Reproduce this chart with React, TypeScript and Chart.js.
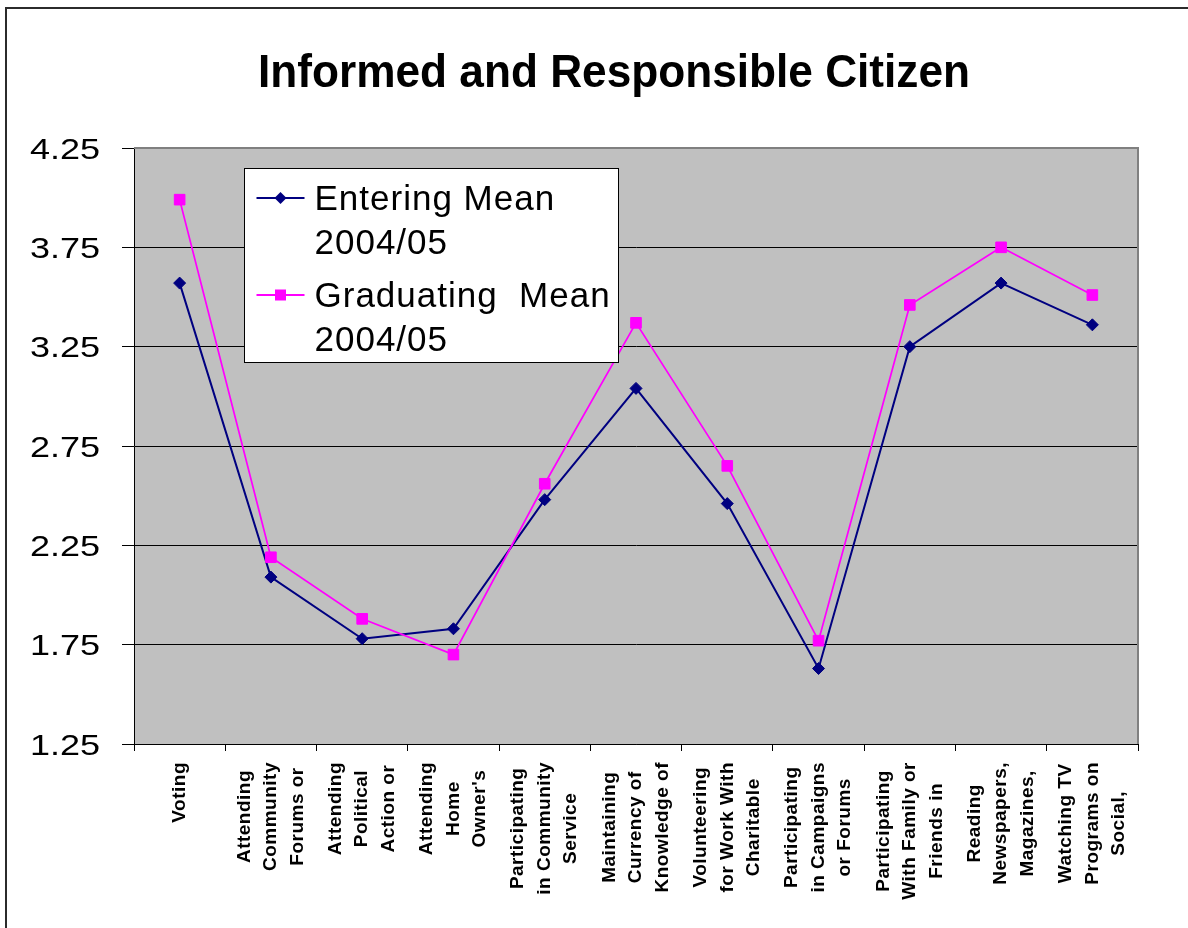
import React, { useEffect, useRef } from 'react';
import { Chart, registerables } from 'chart.js';

Chart.register(...registerables);

const W = 1188;
const H = 928;
const FONT = '"Liberation Sans", Arial, Helvetica, sans-serif';

const chartTitle = 'Informed and Responsible Citizen';

const categories: string[][] = [
  ['Voting'],
  ['Attending', 'Community', 'Forums or'],
  ['Attending', 'Political', 'Action or'],
  ['Attending', 'Home', "Owner's"],
  ['Participating', 'in Community', 'Service'],
  ['Maintaining', 'Currency of', 'Knowledge of'],
  ['Volunteering', 'for Work With', 'Charitable'],
  ['Participating', 'in Campaigns', 'or Forums'],
  ['Participating', 'With Family or', 'Friends in'],
  ['Reading', 'Newspapers,', 'Magazines,'],
  ['Watching TV', 'Programs on', 'Social,'],
];

const seriesNames = ['Entering Mean 2004/05', 'Graduating  Mean 2004/05'];
const legendLines: string[][] = [
  ['Entering Mean', '2004/05'],
  ['Graduating  Mean', '2004/05'],
];

const enteringMean = [3.57, 2.09, 1.78, 1.83, 2.48, 3.04, 2.46, 1.63, 3.25, 3.57, 3.36];
const graduatingMean = [3.99, 2.19, 1.88, 1.7, 2.56, 3.37, 2.65, 1.77, 3.46, 3.75, 3.51];

const yMin = 1.25;
const yMax = 4.25;
const yStep = 0.5;

const NAVY = '#000080';
const MAGENTA = '#ff00ff';

const decorPlugin = {
  id: 'decor',
  beforeDraw(chart: any) {
    const { ctx, chartArea: a } = chart;
    ctx.save();
    ctx.fillStyle = '#ffffff';
    ctx.fillRect(0, 0, W, H);
    ctx.fillStyle = '#c0c0c0';
    ctx.fillRect(a.left, a.top, a.right - a.left, a.bottom - a.top);
    ctx.restore();
  },
  beforeDatasetsDraw(chart: any) {
    const { ctx, chartArea: a } = chart;
    ctx.save();
    ctx.strokeStyle = '#808080';
    ctx.lineWidth = 2;
    ctx.beginPath();
    ctx.moveTo(a.left, a.top);
    ctx.lineTo(a.right, a.top);
    ctx.lineTo(a.right, a.bottom);
    ctx.stroke();
    ctx.restore();
  },
  afterDraw(chart: any) {
    const { ctx, chartArea: a } = chart;
    ctx.save();

    // outer frame
    ctx.strokeStyle = '#2b2b2b';
    ctx.lineWidth = 2;
    ctx.strokeRect(6, 8, W + 40, H + 40);

    // title
    ctx.fillStyle = '#000';
    ctx.font = `bold 46px ${FONT}`;
    ctx.textAlign = 'center';
    ctx.textBaseline = 'alphabetic';
    ctx.fillText(chartTitle, 614, 87, 712);

    // y tick labels
    const ys = chart.scales.y;
    ctx.font = `30px ${FONT}`;
    ctx.textAlign = 'right';
    ys.ticks.forEach((t: any) => {
      const y = ys.getPixelForValue(t.value);
      const label = typeof t.label === 'string' ? t.label : Number(t.value).toFixed(2);
      ctx.save();
      ctx.translate(100, y + 10.8);
      ctx.scale(1.2, 1);
      ctx.fillText(label, 0, 0);
      ctx.restore();
    });

    // x tick labels (rotated, centered lines)
    const xs = chart.scales.x;
    ctx.font = `bold 19px ${FONT}`;
    (ctx as any).letterSpacing = '0.5px';
    ctx.textAlign = 'center';
    ctx.textBaseline = 'middle';
    xs.ticks.forEach((_t: any, i: number) => {
      const lines = categories[i];
      const cx = xs.getPixelForTick(i);
      const maxW = Math.max(...lines.map((l) => ctx.measureText(l).width));
      const cy = a.bottom + 18 + maxW / 2;
      lines.forEach((line, k) => {
        const lx = cx + (k - (lines.length - 1) / 2) * 26.5;
        ctx.save();
        ctx.translate(lx, cy);
        ctx.rotate(-Math.PI / 2);
        ctx.fillText(line, 0, 0);
        ctx.restore();
      });
    });

    // legend
    const bx = a.left + 110.5;
    const by = a.top + 20.5;
    const bw = 374;
    const bh = 194;
    ctx.fillStyle = '#ffffff';
    ctx.fillRect(bx, by, bw, bh);
    ctx.strokeStyle = '#000';
    ctx.lineWidth = 1;
    ctx.strokeRect(bx, by, bw, bh);

    const entryTops = [0, 97];
    chart.data.datasets.forEach((ds: any, i: number) => {
      const lines = legendLines[i];
      const base1 = by + 41.5 + entryTops[i];
      const symY = base1 - 12;
      const sx = bx + 12;
      ctx.strokeStyle = ds.borderColor;
      ctx.lineWidth = 2;
      ctx.beginPath();
      ctx.moveTo(sx, symY);
      ctx.lineTo(sx + 48, symY);
      ctx.stroke();
      ctx.fillStyle = ds.backgroundColor;
      const mx = sx + 24;
      if (ds.pointStyle === 'rectRot') {
        ctx.beginPath();
        ctx.moveTo(mx, symY - 6);
        ctx.lineTo(mx + 6, symY);
        ctx.lineTo(mx, symY + 6);
        ctx.lineTo(mx - 6, symY);
        ctx.closePath();
        ctx.fill();
      } else {
        ctx.fillRect(mx - 5.5, symY - 5.5, 11, 11);
      }
      ctx.fillStyle = '#000';
      ctx.font = `35px ${FONT}`;
      (ctx as any).letterSpacing = '1px';
      ctx.textAlign = 'left';
      ctx.textBaseline = 'alphabetic';
      ctx.fillText(lines[0], bx + 70, base1);
      ctx.fillText(lines[1], bx + 70, base1 + 44);
    });

    ctx.restore();
  },
};

export default function App() {
  const ref = useRef<HTMLCanvasElement | null>(null);

  useEffect(() => {
    if (!ref.current) return;
    const chart = new Chart(ref.current, {
      type: 'line',
      data: {
        labels: categories.map((c) => c.join(' ')),
        datasets: [
          {
            label: seriesNames[0],
            data: enteringMean,
            borderColor: NAVY,
            backgroundColor: NAVY,
            borderWidth: 2,
            pointStyle: 'rectRot',
            pointRadius: 6,
            pointBorderWidth: 1,
            pointBackgroundColor: NAVY,
            pointBorderColor: NAVY,
            tension: 0,
            order: 1,
          },
          {
            label: seriesNames[1],
            data: graduatingMean,
            borderColor: MAGENTA,
            backgroundColor: MAGENTA,
            borderWidth: 1.75,
            pointStyle: 'rect',
            pointRadius: 7.5,
            pointBorderWidth: 1,
            pointBackgroundColor: MAGENTA,
            pointBorderColor: MAGENTA,
            tension: 0,
            order: 0,
          },
        ],
      },
      options: {
        responsive: false,
        animation: false,
        devicePixelRatio: 1,
        layout: { padding: { left: 0, right: 50, top: 148, bottom: 0 } },
        plugins: {
          legend: { display: false },
          title: { display: false },
          tooltip: { enabled: false },
        },
        scales: {
          x: {
            type: 'category',
            offset: true,
            grid: {
              offset: true,
              drawOnChartArea: false,
              drawTicks: true,
              tickLength: 7,
              color: '#000',
              lineWidth: 1,
            },
            border: { display: true, color: '#000', width: 1 },
            ticks: { display: false },
            afterFit: (s: any) => {
              s.height = H - 744;
            },
          },
          y: {
            type: 'linear',
            min: yMin,
            max: yMax,
            ticks: {
              display: false,
              stepSize: yStep,
              callback: (v: any) => Number(v).toFixed(2),
            },
            grid: { color: '#000', lineWidth: 1, tickLength: 12, drawTicks: true },
            border: { display: true, color: '#000', width: 1 },
            afterFit: (s: any) => {
              s.width = 134;
            },
          },
        },
      },
      plugins: [decorPlugin],
    });
    return () => chart.destroy();
  }, []);

  return (
    <div style={{ position: 'fixed', left: 0, top: 0, width: W, height: H, overflow: 'hidden', background: '#fff' }}>
      <canvas ref={ref} width={W} height={H} style={{ display: 'block', width: W, height: H }} />
    </div>
  );
}
